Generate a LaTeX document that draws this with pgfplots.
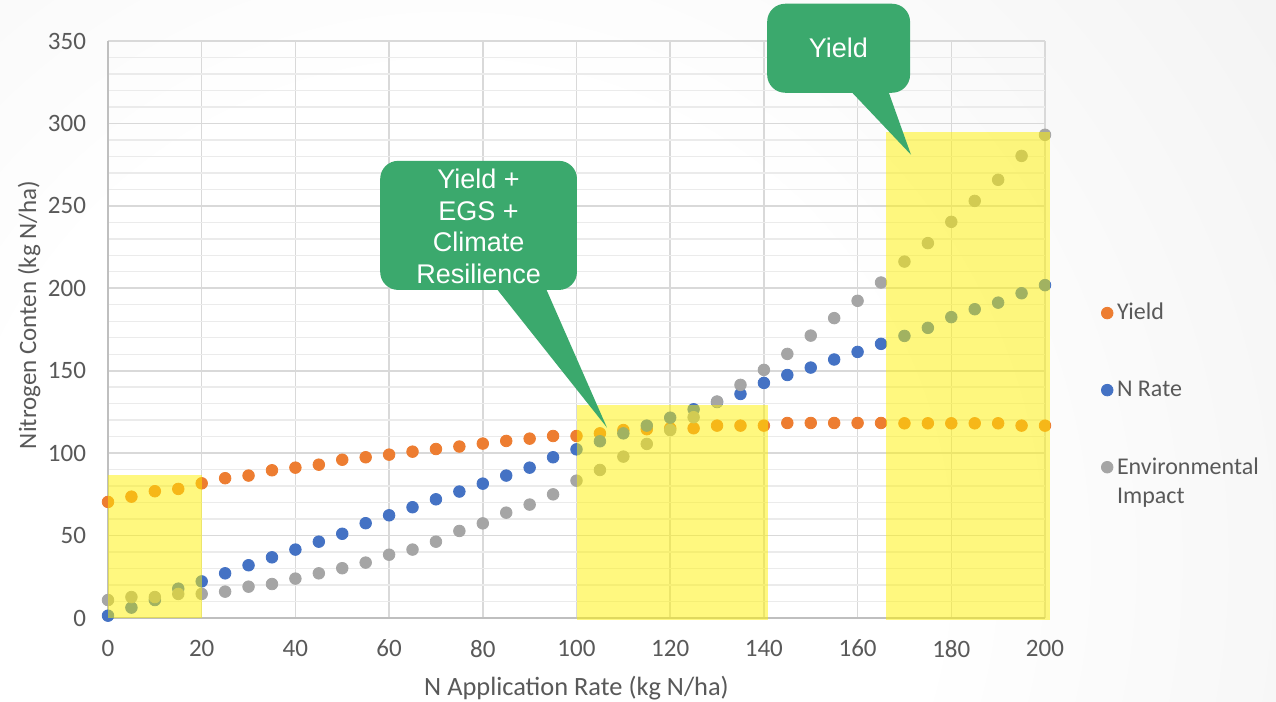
\documentclass[border=0pt]{standalone}
\usepackage{pgfplots}
\usepackage{pgfplotstable}
\pgfplotsset{compat=1.18}
\usepackage{fontspec}
\setmainfont{Carlito}
\newfontfamily\calloutfont{Liberation Sans}

\definecolor{yieldorange}{HTML}{ED7D31}
\definecolor{nrateblue}{HTML}{4472C4}
\definecolor{envgray}{HTML}{A5A5A5}
\definecolor{labelgray}{HTML}{595959}
\definecolor{gridmajor}{HTML}{D9D9D9}
\definecolor{gridminor}{HTML}{EBEBEB}
\definecolor{axisgray}{HTML}{BFBFBF}
\definecolor{calloutgreen}{HTML}{3BA96D}

% soft page background: white in the lower middle, grey towards the corners
\pgfdeclareradialshading{pagebg}{\pgfpoint{0bp}{0bp}}{color(0bp)=(white); color(12bp)=(white); color(50bp)=(black!13)}

% N application rate, yield, N rate and environmental impact
\pgfplotstableread{
x    yield  nrate  env
0    70.4   1.4    10.9
5    73.6   6.3    12.7
10   76.9   10.9   12.7
15   78.3   17.8   14.6
20   81.7   22.2   14.6
25   84.8   27.1   16.0
30   86.4   32.0   19.0
35   89.6   36.8   20.6
40   91.2   41.5   23.9
45   93.0   46.3   27.1
50   96.0   51.1   30.2
55   97.5   57.5   33.6
60   99.1   62.3   38.4
65   100.9  67.2   41.5
70   102.5  72.0   46.3
75   104.0  76.7   52.8
80   105.8  81.5   57.4
85   107.4  86.4   63.9
90   108.8  91.2   68.8
95   110.4  97.5   75.0
100  110.4  102.3  83.3
105  112.0  107.2  89.8
110  114.0  112.0  97.9
115  114.5  116.7  105.6
120  115.1  121.5  114.0
125  115.1  126.6  121.8
130  116.7  131.0  131.3
135  116.7  135.9  141.4
140  116.7  142.6  150.5
145  118.3  147.4  160.2
150  118.3  151.9  171.3
155  118.3  156.8  181.9
160  118.3  161.4  192.4
165  118.3  166.3  203.5
170  118.1  171.1  216.2
175  118.1  176.0  227.4
180  118.1  182.5  240.3
185  118.1  187.3  253.0
190  118.1  191.3  265.8
195  116.7  197.0  280.3
200  116.7  201.9  293.1
}\nuedata

\begin{document}
\begin{tikzpicture}
\begin{axis}[
  set layers,
  at={(0pt,0pt)}, anchor=south west,
  scale only axis, width=468.5pt, height=288.5pt,
  xmin=0, xmax=200, ymin=0, ymax=350,
  xtick={0,20,...,200}, ytick={0,50,...,350},
  minor y tick num=4,
  xmajorgrids, ymajorgrids, yminorgrids,
  major grid style={gridmajor, line width=0.8pt},
  minor grid style={gridminor, line width=0.7pt},
  major tick length=0pt, minor tick length=0pt,
  axis x line=bottom, axis y line=left,
  axis line style={-, axisgray, line width=0.9pt},
  tick label style={font=\fontsize{12.5}{14}\selectfont, text=labelgray},
  /pgf/number format/assume math mode=true,
  xticklabel style={yshift=-7.5pt},
  yticklabel style={xshift=-7.5pt},
  xlabel={N Application Rate (kg N/ha)},
  ylabel={Nitrogen Conten (kg N/ha)},
  label style={text=labelgray},
  xlabel style={font=\fontsize{13.2}{16}\selectfont, at={(axis description cs:0.5,-0.1213)}, anchor=center},
  ylabel style={font=\fontsize{12.5}{15}\selectfont, at={(axis description cs:-0.0843,0.525)}, anchor=center},
  clip=false,
  legend style={at={(axis description cs:1.0598,0.5531)}, anchor=north west,
    draw=none, fill=none, inner sep=0pt, row sep=25pt,
    font=\fontsize{12}{14.5}\selectfont, text=labelgray,
    nodes={text=labelgray}},
  legend cell align=left,
  legend image code/.code={\draw[#1] plot coordinates {(0pt,0pt)};},
]
% page background, below the grid
\begin{pgfonlayer}{axis background}
\begin{scope}
  \clip (rel axis cs:-0.11526,-0.14558) rectangle (rel axis cs:1.24653,1.07106);
  \shade[shading=pagebg] (rel axis cs:0.365,0.1005) circle (500pt);
\end{scope}
\end{pgfonlayer}

\addplot[only marks, mark=*, mark size=2.9pt, color=yieldorange] table[x=x,y=yield]{\nuedata};
\addlegendentry{Yield}
\addplot[only marks, mark=*, mark size=2.9pt, color=nrateblue] table[x=x,y=nrate]{\nuedata};
\addlegendentry{N Rate}
\addplot[only marks, mark=*, mark size=2.9pt, color=envgray] table[x=x,y=env]{\nuedata};
\addlegendentry{\raisebox{0pt}[0.7em][0pt]{\begin{tabular}[t]{@{}l@{}}Environmental\\Impact\end{tabular}}}

\begin{pgfonlayer}{axis foreground}
% highlighted application windows
\fill[yellow, fill opacity=0.5] (axis cs:0,0) rectangle (axis cs:20,86.8);
\fill[yellow, fill opacity=0.5] (axis cs:100.1,-1.5) rectangle (axis cs:140.8,129);
\fill[yellow, fill opacity=0.5] (axis cs:166.1,-1.5) rectangle (axis cs:201,295.1);

% callouts
\fill[calloutgreen, rounded corners=9pt] (axis cs:58.1,199) rectangle (axis cs:100.1,277.3);
\fill[calloutgreen] (axis cs:82.6,201) -- (axis cs:106.5,115.5) -- (axis cs:93.3,201) -- cycle;
\node[text=white, align=center, font=\calloutfont\fontsize{13.5}{15.75}\selectfont]
  at (axis cs:79.1,237.5) {Yield +\\EGS +\\Climate\\Resilience};

\fill[calloutgreen, rounded corners=9pt] (axis cs:140.7,318.6) rectangle (axis cs:171.2,372.6);
\fill[calloutgreen] (axis cs:158.4,320) -- (axis cs:171.4,281) -- (axis cs:166.5,320) -- cycle;
\node[text=white, font=\calloutfont\fontsize{13.5}{15.75}\selectfont]
  at (axis cs:155.9,345.6) {Yield};
\end{pgfonlayer}
\end{axis}
\pgfresetboundingbox
\useasboundingbox (-54pt,-42pt) rectangle (584pt,309pt);
\end{tikzpicture}
\end{document}
